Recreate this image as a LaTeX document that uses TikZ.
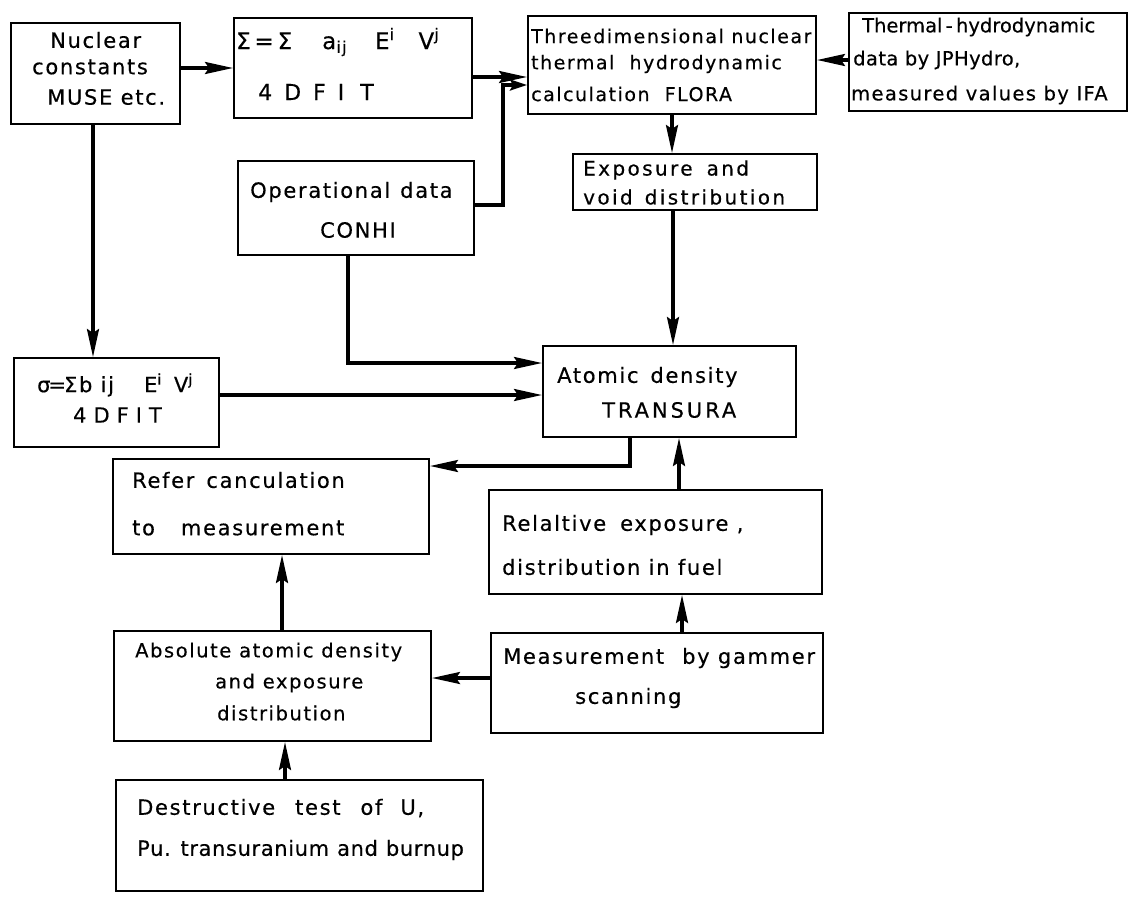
\documentclass[tikz,border=0pt]{standalone}
\usepackage{fontspec}
\setmainfont{DejaVu Sans}[LetterSpace=8,FakeBold=0.4]
\usetikzlibrary{arrows.meta}
\newcommand\gp[1][14pt]{\hspace{#1}}
\newcommand\myfs[1]{\fontsize{#1}{#1}\selectfont}
\newcommand\lsp[1]{\addfontfeature{LetterSpace=#1}}
\tikzset{
  box/.style={draw, line width=2pt, rectangle, inner sep=0pt, anchor=north west},
  txt/.style={anchor=west, inner sep=0pt, font=\myfs{21}},
  arr/.style={line width=3.2pt, -{Stealth[length=28pt,width=12pt,inset=4pt]}},
  shortarr/.style={line width=3.2pt, -{Stealth[length=17pt,width=11pt,inset=3pt]}}
}
\begin{document}
\begin{tikzpicture}[x=1pt,y=-1pt]
\fill[white] (0,0) rectangle (1129,897);
\path[use as bounding box] (0,0) rectangle (1129,897);

% boxes
\node[box, minimum width=169pt, minimum height=101pt] (nuc) at (10,22) {};
\node[box, minimum width=238pt, minimum height=100pt] (sig) at (233,17) {};
\node[box, minimum width=288pt, minimum height=98pt] (flora) at (527,15) {};
\node[box, minimum width=278pt, minimum height=98pt] (therm) at (848,12) {};
\node[box, minimum width=244pt, minimum height=56pt] (exp) at (572,153) {};
\node[box, minimum width=236pt, minimum height=94pt] (op) at (237,160) {};
\node[box, minimum width=205pt, minimum height=89pt] (sigb) at (13,357) {};
\node[box, minimum width=253pt, minimum height=91pt] (tra) at (542,345) {};
\node[box, minimum width=316pt, minimum height=95pt] (refer) at (112,458) {};
\node[box, minimum width=333pt, minimum height=104pt] (rel) at (488,489) {};
\node[box, minimum width=332pt, minimum height=100pt] (meas) at (490,632) {};
\node[box, minimum width=317pt, minimum height=110pt] (abs) at (113,630) {};
\node[box, minimum width=367pt, minimum height=111pt] (des) at (115,779) {};

% texts
\node[txt] (nuc1) at (50,40) {Nuclear};
\node[txt] (nuc2) at (32,67) {constants};
\node[txt] (nuc3) at (47,97) {MUSE etc.};

\node[txt, font=\myfs{23}] (sig1) at (236,42) {Σ\,=\,Σ\gp[30pt]a\textsubscript{ij}\gp[28pt]E\textsuperscript{i}\gp[24pt]V\textsuperscript{j}};
\node[txt, font=\myfs{22}] (sig2) at (258,92) {4\gp[12pt]D\gp[12pt]F\gp[12pt]I\gp[16pt]T};

\node[txt, font=\myfs{19}] (fl1) at (531,36) {Threedimensional nuclear};
\node[txt, font=\myfs{19}] (fl2) at (531,64) {thermal\ \ hydrodynamic};
\node[txt, font=\myfs{19}] (fl3) at (531,94) {calculation\ \ FLORA};

\node[txt, font=\myfs{19.5}] (th1) at (862,27) {\lsp{0}Thermal\,-\,hydrodynamic};
\node[txt, font=\myfs{19.5}] (th2) at (853,60) {\lsp{2}data by JPHydro,};
\node[txt, font=\myfs{19.5}] (th3) at (851,95) {\lsp{7}measured values by IFA};

\node[txt, font=\myfs{20}] (ex1) at (583,170) {\lsp{12}Exposure\gp[14pt]and};
\node[txt, font=\myfs{20}] (ex2) at (583,197) {\lsp{12}void\gp[12pt]distribution};

\node[txt] (op1) at (250,192) {Operational\gp[10pt]data};
\node[txt] (op2) at (320,230) {CONHI};

\node[txt, font=\myfs{21}] (sb1) at (37,385) {σ\kern-2pt=\kern-2ptΣb ij\gp[30pt]E\textsuperscript{i}\gp[12pt]V\textsuperscript{j}};
\node[txt] (sb2) at (73,415) {4\gp[7pt]D\gp[7pt]F\gp[7pt]I\gp[7pt]T};

\node[txt] (tr1) at (557,377) {Atomic\gp[12pt]density};
\node[txt] (tr2) at (602,410) {\lsp{14}TRANSURA};

\node[txt] (rf1) at (132,480) {Refer\gp[12pt]canculation};
\node[txt] (rf2) at (132,528) {to\gp[26pt]measurement};

\node[txt] (rl1) at (502,525) {Relaltive\gp[14pt]exposure ,};
\node[txt] (rl2) at (502,567) {distribution in fuel};

\node[txt] (ms1) at (503,658) {Measurement\gp[18pt]by gammer};
\node[txt] (ms2) at (575,698) {scanning};

\node[txt, font=\myfs{19.5}] (ab1) at (135,652) {Absolute atomic density};
\node[txt, font=\myfs{19.5}] (ab2) at (215,683) {and exposure};
\node[txt, font=\myfs{19.5}] (ab3) at (217,713) {distribution};

\node[txt] (ds1) at (137,808) {Destructive\gp[20pt]test\gp[20pt]of\gp[18pt]U,};
\node[txt] (ds2) at (137,850) {\lsp{3}Pu. transuranium\gp[8pt]and\gp[8pt]burnup};

% connectors
\coordinate (opbend) at (503,85);
\draw[arr] (nuc.east |- 0,68) -- (sig.west |- 0,68);
\draw[arr] (sig.east |- 0,77) -- (flora.west |- 0,77);
\draw[arr] (therm.west |- 0,60) -- (flora.east |- 0,60);
\draw[shortarr] (op.east |- 0,205) -| (opbend) -- (flora.west |- opbend);
\draw[arr] (flora.south -| 672,0) -- (exp.north -| 672,0);
\draw[arr] (exp.south -| 673,0) -- (tra.north -| 673,0);
\draw[arr] (op.south -| 348,0) |- (tra.west |- 0,363);
\draw[arr] (nuc.south -| 93,0) -- (sigb.north -| 93,0);
\draw[arr] (sigb.east |- 0,395) -- (tra.west |- 0,395);
\draw[arr] (tra.south -| 630,0) |- (refer.east |- 0,466);
\draw[arr] (rel.north -| 679,0) -- (tra.south -| 679,0);
\draw[arr] (meas.north -| 682,0) -- (rel.south -| 682,0);
\draw[arr] (meas.west |- 0,678) -- (abs.east |- 0,678);
\draw[arr] (abs.north -| 282,0) -- (refer.south -| 282,0);
\draw[arr] (des.north -| 285,0) -- (abs.south -| 285,0);
\end{tikzpicture}
\end{document}
